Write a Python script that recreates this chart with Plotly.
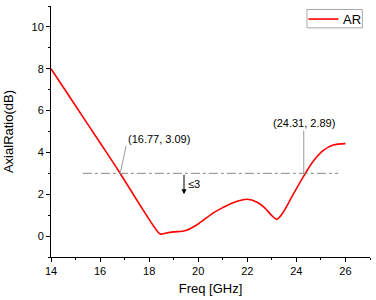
import plotly.graph_objects as go

freq = [14, 15, 16, 16.77, 17.5, 18.0, 18.2, 18.45, 18.7, 19.0, 19.5, 20.0, 20.6, 21.0, 21.5, 22.0, 22.4, 22.7, 23.0, 23.2, 23.45, 23.8, 24.31, 24.7, 25.1, 25.5, 26.0]
ar = [8.0, 6.23, 4.46, 3.09, 1.72, 0.8, 0.45, 0.1, 0.15, 0.2, 0.27, 0.58, 1.1, 1.36, 1.63, 1.76, 1.62, 1.36, 0.98, 0.8, 1.12, 1.85, 2.89, 3.6, 4.1, 4.35, 4.42]
threshold = 3
band_x = [15.3, 25.7]
pts = [(16.77, 3.09), (24.31, 2.89)]
series_name = "AR"

FONT = "Liberation Sans, Arial, sans-serif"
fig = go.Figure()
fig.add_trace(go.Scatter(x=freq, y=ar, mode="lines", name=series_name, showlegend=False,
                         line=dict(color="#ff0000", width=1.6, shape="spline", smoothing=0.9)))
fig.add_trace(go.Scatter(x=band_x, y=[threshold, threshold], mode="lines", showlegend=False,
                         line=dict(color="#888888", width=1, dash="dashdot")))
# leader lines
fig.add_trace(go.Scatter(x=[16.82, 17.06], y=[3.0, 4.3], mode="lines", showlegend=False,
                         line=dict(color="#999999", width=1)))
fig.add_trace(go.Scatter(x=[24.3, 24.3], y=[3.0, 5.05], mode="lines", showlegend=False,
                         line=dict(color="#999999", width=1)))

fig.add_annotation(x=19.42, y=2.0, ax=19.42, ay=3.0, axref="x", ayref="y", xref="x", yref="y",
                   showarrow=True, arrowhead=2, arrowsize=1, arrowwidth=1, arrowcolor="black", text="")
fig.add_annotation(x=19.5, y=2.5, text="≤3", showarrow=False, xanchor="left",
                   font=dict(family=FONT, size=11, color="black"))
fig.add_annotation(x=18.4, y=4.66, text=f"({pts[0][0]}, {pts[0][1]})", showarrow=False,
                   font=dict(family=FONT, size=11, color="black"))
fig.add_annotation(x=24.33, y=5.43, text=f"({pts[1][0]}, {pts[1][1]})", showarrow=False,
                   font=dict(family=FONT, size=11, color="black"))

# legend box (paper coordinates)
fig.add_shape(type="rect", xref="paper", yref="paper", x0=0.8025, x1=0.976, y0=0.913, y1=0.986,
              line=dict(color="#a8a8a8", width=1), fillcolor="white", layer="above")
fig.add_shape(type="line", xref="paper", yref="paper", x0=0.807, x1=0.901, y0=0.948, y1=0.948,
              line=dict(color="#ff0000", width=1.6), layer="above")
fig.add_annotation(xref="paper", yref="paper", x=0.909, y=0.948, text=series_name, showarrow=False,
                   xanchor="left", yanchor="middle", font=dict(family=FONT, size=13, color="black"))

fig.update_layout(
    width=376, height=300,
    margin=dict(l=51, r=6, t=6, b=43),
    paper_bgcolor="white", plot_bgcolor="white",
    font=dict(family=FONT, size=11, color="black"),
    showlegend=False,
    xaxis=dict(range=[14, 27], tickvals=[14, 16, 18, 20, 22, 24, 26],
               showgrid=False, zeroline=False, showline=True, linecolor="black", linewidth=1,
               ticks="outside", ticklen=4, tickcolor="black",
               minor=dict(tickvals=[15, 17, 19, 21, 23, 25, 27], ticks="outside", ticklen=2, tickcolor="black"),
               title=dict(text="Freq [GHz]", font=dict(family=FONT, size=13), standoff=7)),
    yaxis=dict(range=[-1, 11], tickvals=[0, 2, 4, 6, 8, 10],
               showgrid=False, zeroline=False, showline=True, linecolor="black", linewidth=1,
               ticks="outside", ticklen=4, tickcolor="black",
               minor=dict(tickvals=[-1, 1, 3, 5, 7, 9, 11], ticks="outside", ticklen=2, tickcolor="black"),
               title=dict(text="AxialRatio(dB)", font=dict(family=FONT, size=13), standoff=14)),
)
fig.write_html("out.html", config={"displayModeBar": False},
               post_script="document.body.style.margin='0px';")
